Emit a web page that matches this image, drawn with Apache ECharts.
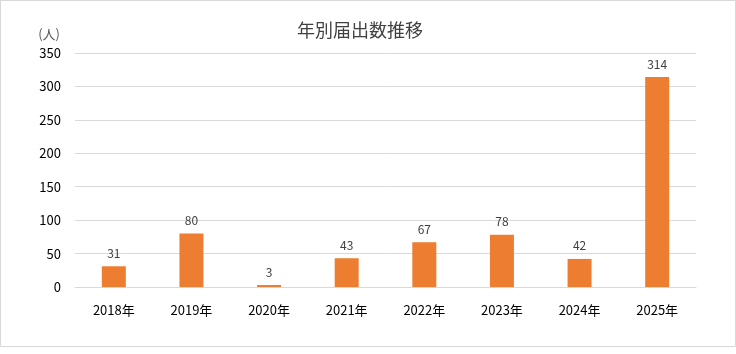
<!DOCTYPE html>
<html><head><meta charset="utf-8">
<script src="https://cdn.jsdelivr.net/npm/echarts@6/dist/echarts.min.js"></script>
<style>html,body{margin:0;padding:0;background:#fff}
#frame{position:absolute;left:0;top:0;width:734px;height:345px;border:1px solid #d9d9d9;}
#c{width:736px;height:354px;position:absolute;left:0;top:0}</style>
</head><body><div id="frame"></div><div id="c"></div>
<script>
const categories = ['2018年','2019年','2020年','2021年','2022年','2023年','2024年','2025年'];
const values = [31, 80, 3, 43, 67, 78, 42, 314];
const title = '年別届出数推移';
const unit = '(人)';
const font = '"Noto Sans CJK JP", "Noto Sans", sans-serif';
const chart = echarts.init(document.getElementById('c'));
chart.setOption({
  animation: false,
  title: { text: title, left: 292, top: 16, textStyle: { fontFamily: font, fontSize: 18, fontWeight: 'normal', color: '#404040' } },
  grid: { left: 75, right: 40, top: 53, bottom: 67, containLabel: false },
  xAxis: { type: 'category', data: categories,
    axisLine: { lineStyle: { color: '#d9d9d9' } }, axisTick: { show: false },
    axisLabel: { fontFamily: font, fontSize: 13, color: '#000', margin: 17 } },
  yAxis: { type: 'value', min: 0, max: 350, interval: 50,
    name: unit, nameLocation: 'end', nameGap: 12,
    nameTextStyle: { fontFamily: font, fontSize: 13, color: '#595959', align: 'right', padding: [0, 15, 0, 0] },
    axisLine: { show: false }, axisTick: { show: false },
    splitLine: { lineStyle: { color: '#d9d9d9' } },
    axisLabel: { fontFamily: font, fontSize: 13, color: '#000', margin: 14 } },
  series: [{ type: 'bar', data: values, barWidth: 24,
    itemStyle: { color: '#ED7D31' },
    label: { show: true, position: 'top', distance: 7, fontFamily: font, fontSize: 12, color: '#404040' } }]
});
</script></body></html>
